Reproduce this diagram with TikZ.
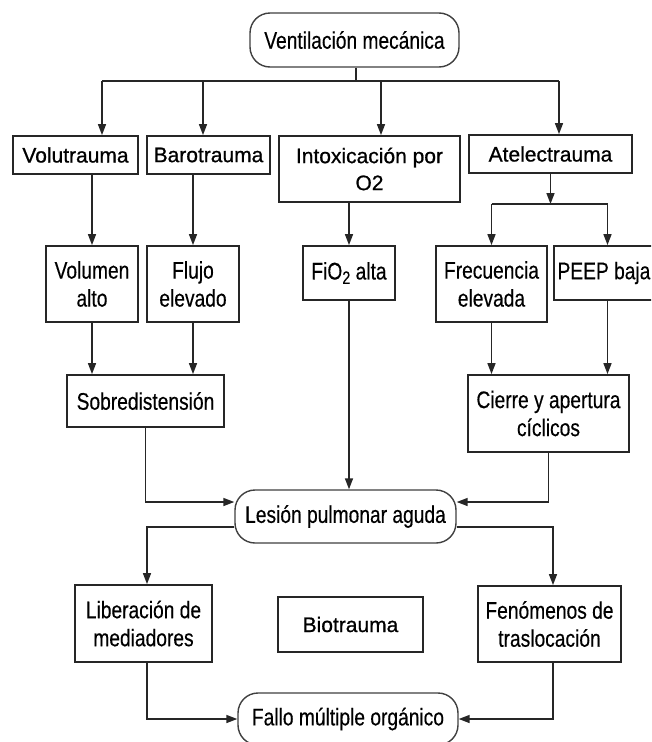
\documentclass[tikz,border=0pt]{standalone}
\usepackage{fontspec}
\setmainfont{Liberation Sans}
\newfontfamily\narrowfont[FakeStretch=0.8,FakeBold=0.35]{Liberation Sans}
\newfontfamily\regfont[FakeBold=0.8]{Liberation Sans}
\usetikzlibrary{arrows.meta}
\begin{document}
\begin{tikzpicture}[x=1pt,y=-1pt,
  box/.style={draw=black!85, line width=1.8pt, inner sep=0pt, align=center, text=black},
  nbox/.style={box, font=\narrowfont\fontsize{24}{28}\selectfont},
  rbox/.style={box, font=\regfont\fontsize{21}{27}\selectfont},
  term/.style={draw=black!75, line width=1.4pt, rounded corners=20pt, inner sep=0pt, align=center, text=black, font=\narrowfont\fontsize{24}{28}\selectfont},
  arr/.style={line width=1.5pt, draw=black!85, -{Triangle[length=11pt,width=8pt]}},
  ln/.style={line width=1.5pt, draw=black!85}]
\clip (0,0) rectangle (651,742);
\fill[white] (0,0) rectangle (651,742);
% nodes
\node[term, minimum width=209pt, minimum height=54pt] (vm) at (354.5,40) {Ventilación mecánica};
\node[rbox, minimum width=125pt, minimum height=38pt] (volu) at (75.5,155) {Volutrauma};
\node[rbox, minimum width=123pt, minimum height=38pt] (baro) at (208.5,155) {Barotrauma};
\node[rbox, minimum width=181pt, minimum height=66pt] (intox) at (369.5,169) {Intoxicación por\\O2};
\node[rbox, minimum width=163pt, minimum height=38pt] (atel) at (550.5,154) {Atelectrauma};
\node[nbox, minimum width=92pt, minimum height=76pt] (volalto) at (92,284) {Volumen\\alto};
\node[nbox, minimum width=92pt, minimum height=76pt] (flujo) at (193,284) {Flujo\\elevado};
\node[nbox, minimum width=92pt, minimum height=54pt] (fio) at (349,273) {FiO\raisebox{-0.35ex}{\fontsize{18}{18}\selectfont 2} alta};
\node[nbox, minimum width=111pt, minimum height=76pt] (frec) at (491.5,284) {Frecuencia\\elevada};
\node[nbox, minimum width=100pt, minimum height=54pt] (peep) at (604,273) {PEEP baja};
\node[nbox, minimum width=157pt, minimum height=52pt] (sobre) at (145.5,401) {Sobredistensión};
\node[nbox, minimum width=161pt, minimum height=77pt] (cierre) at (548.5,413.5) {Cierre y apertura\\cíclicos};
\node[term, minimum width=221pt, minimum height=53pt] (lesion) at (345.5,516.5) {Lesión pulmonar aguda};
\node[nbox, minimum width=137pt, minimum height=77pt] (liber) at (143.5,623.5) {Liberación de\\mediadores};
\node[rbox, minimum width=145pt, minimum height=55pt] (bio) at (350.5,624.5) {Biotrauma};
\node[nbox, minimum width=143pt, minimum height=76pt] (fenom) at (549.5,624) {Fenómenos de\\traslocación};
\node[term, minimum width=220pt, minimum height=52pt] (fallo) at (348,719) {Fallo múltiple orgánico};
% connectors
\coordinate (j0) at (356,81);
\draw[ln] (vm.south -| j0) -- (j0);
\draw[ln] ([xshift=26.5pt]volu.north |- j0) -- ([xshift=8.5pt]atel.north |- j0);
\draw[arr] ([xshift=26.5pt]volu.north |- j0) -- ([xshift=26.5pt]volu.north);
\draw[arr] ([xshift=-5.5pt]baro.north |- j0) -- ([xshift=-5.5pt]baro.north);
\draw[arr] ([xshift=11.5pt]intox.north |- j0) -- ([xshift=11.5pt]intox.north);
\draw[arr] ([xshift=8.5pt]atel.north |- j0) -- ([xshift=8.5pt]atel.north);
\draw[arr] (volalto.north |- volu.south) -- (volalto.north);
\draw[arr] (flujo.north |- baro.south) -- (flujo.north);
\draw[arr] (fio.north |- intox.south) -- (fio.north);
\coordinate (j1) at (550.5,204);
\draw[arr] (atel.south) -- (j1);
\draw[ln] (frec.north |- j1) -- ([xshift=3.5pt]peep.north |- j1);
\draw[arr] (frec.north |- j1) -- (frec.north);
\draw[arr] ([xshift=3.5pt]peep.north |- j1) -- ([xshift=3.5pt]peep.north);
\draw[arr] (volalto.south) -- (volalto.south |- sobre.north);
\draw[arr] (flujo.south) -- (flujo.south |- sobre.north);
\draw[arr] (frec.south) -- (frec.south |- cierre.north);
\draw[arr] ([xshift=3.5pt]peep.south) -- ([xshift=3.5pt]peep.south |- cierre.north);
\draw[arr] (fio.south) -- (fio.south |- lesion.north);
\draw[arr] (sobre.south) |- ([yshift=14.5pt]lesion.west);
\draw[arr] (cierre.south) |- ([yshift=14.5pt]lesion.east);
\draw[arr] ([yshift=-10.5pt]lesion.west) -| ([xshift=3.5pt]liber.north);
\draw[arr] ([yshift=-10.5pt]lesion.east) -| ([xshift=3.5pt]fenom.north);
\draw[arr] ([xshift=3.5pt]liber.south) |- (fallo.west);
\draw[arr] ([xshift=3.5pt]fenom.south) |- (fallo.east);
\end{tikzpicture}
\end{document}
